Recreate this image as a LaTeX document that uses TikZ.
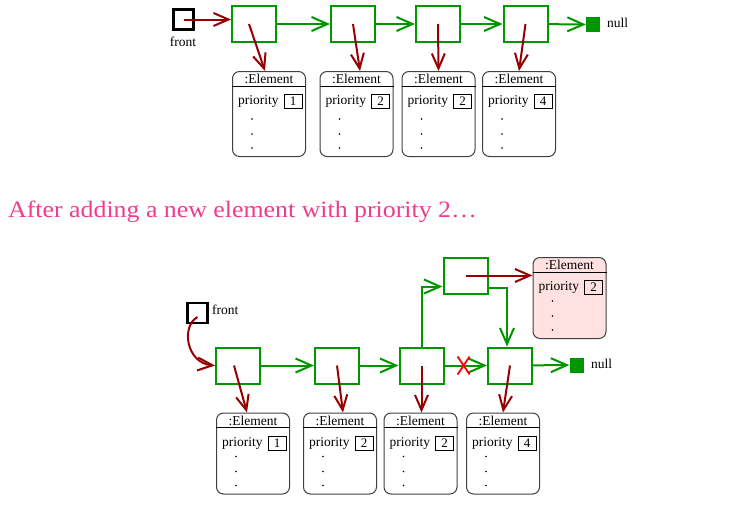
\documentclass[tikz,border=0pt]{standalone}
\usepackage{fontspec}
\setmainfont{Liberation Serif}
\newfontfamily\titlefont[FakeStretch=1.1]{Liberation Serif}
\usetikzlibrary{arrows.meta,calc,positioning}
\definecolor{listgreen}{RGB}{0,150,0}
\definecolor{refred}{RGB}{150,0,0}
\definecolor{titlepink}{RGB}{240,60,140}
\definecolor{elempink}{RGB}{255,225,225}

\newcommand{\elembox}[4]{%
  \node[element,#4] (#1) at (#2) {};
  \node[lbl] at ($(#1.north)+(0,8)$) {:Element};
  \draw[thin] ($(#1.north west)+(0,15)$) -- ($(#1.north east)+(0,15)$);
  \node[lbl,anchor=west] at ($(#1.north west)+(6,30.5)$) {priority};
  \node[valbox] at ($(#1.north west)+(61,30.5)$) {#3};
  \foreach \dy in {38,23,9}
    \fill ($(#1.south west)+(20,-\dy)$) circle (0.9);
}

\begin{document}
\begin{tikzpicture}[x=1pt,y=-1pt,
    ptrbox/.style={draw=listgreen, line width=2pt, minimum width=44pt, minimum height=36pt, inner sep=0},
    frontbox/.style={draw=black, line width=2.2pt, minimum size=20pt, inner sep=0},
    nullsq/.style={fill=listgreen, minimum width=14pt, minimum height=15pt, inner sep=0},
    element/.style={draw=black!75, line width=1pt, rounded corners=7pt, minimum width=73pt, minimum height=85pt, inner sep=0},
    valbox/.style={draw, line width=0.8pt, minimum width=18pt, minimum height=14pt, inner sep=0, font=\fontsize{13}{13}\selectfont},
    lbl/.style={inner sep=0, font=\fontsize{13.5}{15}\selectfont},
    nextptr/.style={draw=listgreen, line width=2pt, -{Straight Barb[length=16pt,width=14pt]}},
    refptr/.style={draw=refred, line width=2pt, -{Straight Barb[length=15pt,width=13pt]}}]
  \useasboundingbox (0,0) rectangle (739,514);

  % before
  \node[frontbox] (f1) at (183.5,19.5) {};
  \node[lbl] at (183,42) {front};
  \node[ptrbox] (a1) at (254,24) {};
  \node[ptrbox] (a2) at (353,24) {};
  \node[ptrbox] (a3) at (438,24) {};
  \node[ptrbox] (a4) at (525.5,24) {};
  \node[nullsq] (n1) at (593,24.5) {};
  \node[lbl,anchor=west] at (607,23) {null};

  \elembox{e1}{269,114}{1}{}
  \elembox{e2}{356.5,114}{2}{}
  \elembox{e3}{438.5,114}{2}{}
  \elembox{e4}{519,114}{4}{}

  \draw[refptr] (f1.center) -- (f1 -| a1.west);
  \draw[nextptr] (a1) -- (a2);
  \draw[nextptr] (a2) -- (a3);
  \draw[nextptr] (a3) -- (a4);
  \draw[nextptr] (a4) -- (n1);
  \draw[refptr] ([xshift=-5pt]a1.center) -- ([xshift=-4pt]e1.north);
  \draw[refptr] (a2.center) -- ([xshift=3.5pt]e2.north);
  \draw[refptr] (a3.center) -- (e3.north);
  \draw[refptr] (a4.center) -- (e4.north);

  \node[anchor=west, inner sep=0, text=titlepink, font=\titlefont\fontsize{23.5}{28}\selectfont] (title) at (8,212) {After adding a new element with priority 2\dots};

  % after
  \node[frontbox] (f2) at (197.5,313) {};
  \node[lbl,anchor=west] at (212,310) {front};
  \node[ptrbox] (b1) at (238,365.5) {};
  \node[ptrbox] (b2) at (337,365.5) {};
  \node[ptrbox] (b3) at (421.5,365.5) {};
  \node[ptrbox] (b4) at (510,365.5) {};
  \node[ptrbox] (bn) at (465.5,275.5) {};
  \node[nullsq] (n2) at (576.5,365) {};
  \node[lbl,anchor=west] at (591,364) {null};

  \elembox{d1}{253,453.5}{1}{minimum height=81pt}
  \elembox{d2}{340,453.5}{2}{minimum height=81pt}
  \elembox{d3}{420.5,453.5}{2}{minimum height=81pt}
  \elembox{d4}{503,453.5}{4}{minimum height=81pt}
  \elembox{dn}{569.5,298}{2}{minimum height=81pt, fill=elempink}

  \draw[refptr] ($(f2.center)+(0,4)$) .. controls (181,326) and (186,363) .. (b1.west);
  \draw[nextptr] (b1) -- (b2);
  \draw[nextptr] (b2) -- (b3);
  \draw[nextptr] (b3) -- (b4);
  \draw[nextptr] (b4) -- (n2);
  \draw[nextptr] (b3.north) |- ($(bn.west)+(0,11)$);
  \draw[nextptr] ($(bn.east)+(0,12)$) -| ([xshift=-3pt]b4.north);
  \coordinate (cut) at ($(b3.east)!0.45!(b4.west)$);
  \draw[red, line width=1.8pt] ($(cut)+(-6,-9)$) -- ($(cut)+(6,9)$)
                               ($(cut)+(6,-9)$) -- ($(cut)+(-6,9)$);
  \draw[refptr] (bn.center) -- (bn.center -| dn.west);
  \draw[refptr] ([xshift=-4pt]b1.center) -- ([xshift=-6pt]d1.north);
  \draw[refptr] (b2.center) -- ([xshift=3pt]d2.north);
  \draw[refptr] (b3.center) -- ([xshift=1pt]d3.north);
  \draw[refptr] (b4.center) -- (d4.north);
\end{tikzpicture}
\end{document}
